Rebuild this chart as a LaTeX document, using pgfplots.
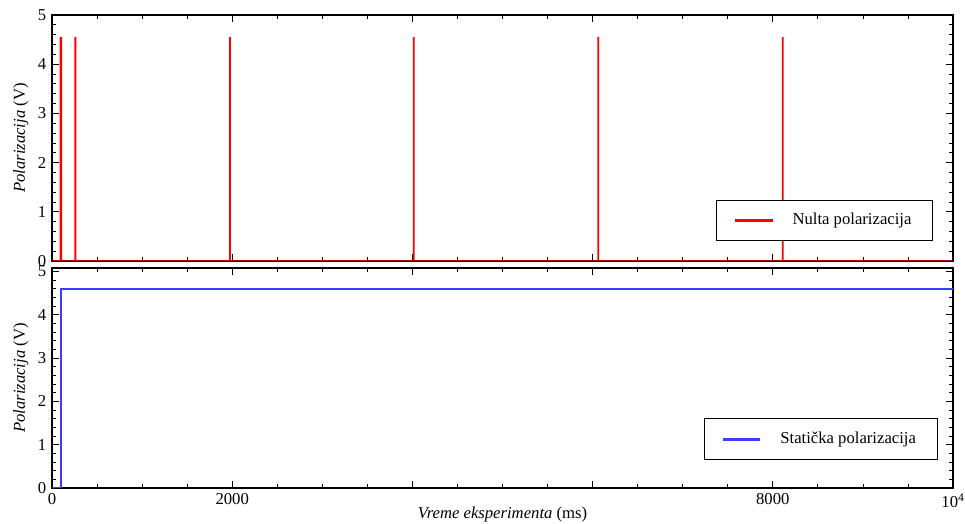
\documentclass[border=0pt]{standalone}
\usepackage{fontspec}
\setmainfont{Liberation Serif}
\usepackage{pgfplots}
\pgfplotsset{compat=1.18}
\definecolor{sigred}{RGB}{255,0,0}
\definecolor{sigblue}{RGB}{60,60,255}

% impulsi nulte polarizacije
\pgfplotstableread{
t v
96 4.55
102 4.55
259 4.55
1976 4.55
4015 4.55
6063 4.55
8110 4.55
}\impulsi

\pgfplotstableread{
t v
0 0
10000 0
}\nula

\pgfplotstableread{
t v
0 0
98 0
98 4.6
10000 4.6
}\staticka

\begin{document}
\fontsize{12.5}{15}\selectfont
\begin{tikzpicture}
\pgfplotsset{
  every axis/.append style={
    scale only axis,
    width=675.75pt,
    xmin=0, xmax=10000,
    xtick={0,2000,4000,6000,8000,10000},
    scaled x ticks=false,
    minor x tick num=3,
    ytick={0,1,2,3,4,5},
    minor y tick num=4,
    tick align=inside,
    major tick length=5pt,
    minor tick length=3pt,
    axis line style={line width=0.8pt},
    every tick/.style={black, line width=0.6pt},
    tick label style={font=\fontsize{12.5}{15}\selectfont},
    label style={font=\fontsize{12.5}{15}\selectfont},
    /pgf/number format/assume math mode=true,
    ylabel={\textit{Polarizacija} (V)},
    ylabel style={yshift=-1.5pt},
    legend cell align=left,
    legend style={
      draw=black, line width=0.6pt,
      font=\fontsize{12.5}{15}\selectfont,
      inner xsep=14pt, inner ysep=8pt,
      /tikz/every odd column/.append style={column sep=13pt},
    },
  },
}
\begin{axis}[
  name=bot,
  height=165pt,
  ymin=0, ymax=5.08,
  xticklabels={0,2000,,,8000,10\textsuperscript{4}},
  xlabel={\textit{Vreme eksperimenta} (ms)},
  xlabel style={at={(axis description cs:0.5,0)}, anchor=north, yshift=-10pt},
  legend image code/.code={\fill[sigblue] (0pt,-0.55pt) rectangle (27pt,0.55pt);},
  legend style={at={(0.983,0.127)}, anchor=south east},
]
\addplot[sigblue, line width=1.2pt] table[x=t, y=v] {\staticka};
\addlegendentry{Statička polarizacija}
\end{axis}

\begin{axis}[
  name=top,
  at={(bot.north west)}, anchor=south west, yshift=5.25pt,
  height=184.5pt,
  ymin=0, ymax=5,
  xticklabels={},
  legend image code/.code={\fill[sigred] (0pt,-0.55pt) rectangle (27pt,0.55pt);},
  legend style={at={(0.978,0.081)}, anchor=south east},
]
\addplot[ybar, bar width=1.4pt, bar shift=0pt, fill=sigred, draw=none, forget plot] table[x=t, y=v] {\impulsi};
\addplot[sigred!70!black, line width=1.3pt] table[x=t, y=v] {\nula};
\addlegendentry{Nulta polarizacija}
\end{axis}
\pgfresetboundingbox
\path ([xshift=-39pt,yshift=-27pt]bot.south west) rectangle ([xshift=9pt,yshift=11.25pt]top.north east);
\end{tikzpicture}
\end{document}
